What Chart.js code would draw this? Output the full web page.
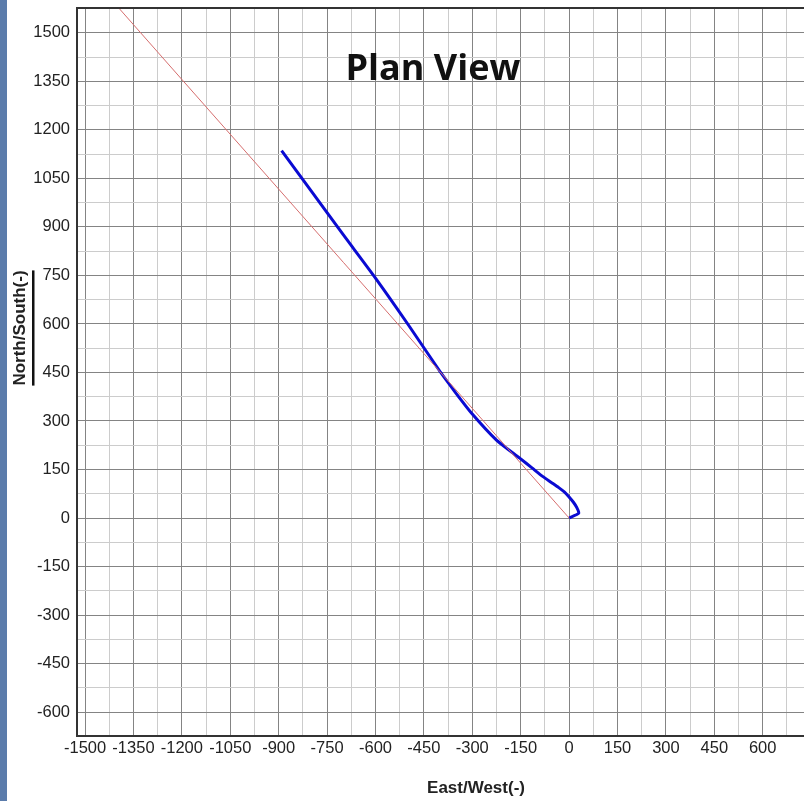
<!DOCTYPE html>
<html><head><meta charset="utf-8">
<script src="https://cdn.jsdelivr.net/npm/chart.js@4.4.1/dist/chart.umd.min.js"></script>
<style>
html,body{margin:0;padding:0;overflow:hidden;background:#5b7cab;width:804px;height:801px}
#wrap{position:absolute;left:7px;top:0;width:883px;height:801px;background:#fff}
canvas{display:block}
</style></head><body>
<div id="wrap"><canvas id="c" width="883" height="801"></canvas></div>
<script>
// Well path (plan view): East/West and North/South
const wellEast  = [0, 30, 24, 14, 0, -14, -32, -55, -81, -115, -153, -225, -302, -352, -400, -500, -600, -700, -800, -891];
const wellNorth = [0, 15, 32, 48, 65, 80, 94, 110, 128, 155, 185, 241, 324, 388, 453, 600, 742, 876, 1012, 1136];
// Target direction line
const targetEast  = [0, -1500];
const targetNorth = [0, 1695];
// Tick labels
const xTickLabels = [-1500, -1350, -1200, -1050, -900, -750, -600, -450, -300, -150, 0, 150, 300, 450, 600];
const yTickLabels = [-600, -450, -300, -150, 0, 150, 300, 450, 600, 750, 900, 1050, 1200, 1350, 1500];
// Grid positions (major every 150, minor every 75)
const xGrid = [-1500, -1425, -1350, -1275, -1200, -1125, -1050, -975, -900, -825, -750, -675, -600, -525, -450, -375, -300, -225, -150, -75, 0, 75, 150, 225, 300, 375, 450, 525, 600, 675, 750, 825, 900];
const yGrid = [-600, -525, -450, -375, -300, -225, -150, -75, 0, 75, 150, 225, 300, 375, 450, 525, 600, 675, 750, 825, 900, 975, 1050, 1125, 1200, 1275, 1350, 1425, 1500, 1575];

const MAJOR = '#848484', MINOR = '#cccccc';
const gridColor = c => (c.tick && c.tick.value % 150 === 0) ? MAJOR : MINOR;

const decor = {
  id: 'decor',
  beforeDraw(chart) {
    const ctx = chart.ctx;
    ctx.save();
    ctx.fillStyle = '#fff';
    ctx.fillRect(0, 0, chart.width, chart.height);
    ctx.restore();
  },
  afterDraw(chart) {
    const ctx = chart.ctx, a = chart.chartArea;
    ctx.save();
    // plot border
    ctx.strokeStyle = '#333';
    ctx.lineWidth = 2;
    ctx.strokeRect(a.left, a.top, a.right - a.left, a.bottom - a.top);
    // title inside plot
    ctx.fillStyle = '#111';
    ctx.font = 'bold 36px "Open Sans"';
    ctx.textAlign = 'center';
    ctx.textBaseline = 'alphabetic';
    ctx.fillText('Plan View', a.left + (a.right - a.left) * 0.446, a.top + 72);
    // x axis title
    ctx.font = 'bold 17px "Liberation Sans"';
    ctx.fillStyle = '#222';
    ctx.textBaseline = 'middle';
    ctx.fillText('East/West(-)', (a.left + a.right) / 2, a.bottom + 52);
    // y axis title (rotated, underlined)
    ctx.translate(13, 328);
    ctx.rotate(-Math.PI / 2);
    ctx.fillText('North/South(-)', 0, 0);
    const w = ctx.measureText('North/South(-)').width;
    ctx.fillStyle = '#111';
    ctx.fillRect(-w / 2, 12, w, 2.5);
    ctx.restore();
  }
};

new Chart(document.getElementById('c'), {
  type: 'scatter',
  data: {
    datasets: [
      {
        label: 'Target',
        data: targetEast.map((x, i) => ({x: x, y: targetNorth[i]})),
        showLine: true,
        borderColor: 'rgb(214,110,110)',
        borderWidth: 1,
        pointRadius: 0,
        tension: 0
      },
      {
        label: 'Well',
        data: wellEast.map((x, i) => ({x: x, y: wellNorth[i]})),
        showLine: true,
        borderColor: 'rgb(10,10,210)',
        borderWidth: 3,
        pointRadius: 0,
        tension: 0.2
      }
    ]
  },
  options: {
    responsive: false,
    animation: false,
    events: [],
    layout: {padding: {top: 8, right: 15, left: 0, bottom: 0}},
    plugins: {legend: {display: false}, title: {display: false}, tooltip: {enabled: false}},
    scales: {
      x: {
        type: 'linear',
        min: -1525, max: 948,
        afterBuildTicks: s => { s.ticks = xGrid.map(v => ({value: v})); },
        afterFit: s => { s.height = 65; s.paddingLeft = 0; s.paddingRight = 0; },
        grid: {color: gridColor, lineWidth: 1, drawTicks: false},
        border: {display: false},
        ticks: {
          autoSkip: false, maxRotation: 0, padding: 3,
          color: '#222', font: {family: '"Liberation Sans", Arial', size: 16.5},
          callback: v => xTickLabels.includes(v) ? String(v) : ''
        }
      },
      y: {
        type: 'linear',
        min: -674, max: 1577,
        afterBuildTicks: s => { s.ticks = yGrid.map(v => ({value: v})); },
        afterFit: s => { s.width = 70; s.paddingTop = 0; s.paddingBottom = 0; },
        grid: {color: gridColor, lineWidth: 1, drawTicks: false},
        border: {display: false},
        ticks: {
          autoSkip: false, padding: 7,
          color: '#222', font: {family: '"Liberation Sans", Arial', size: 16.5},
          callback: v => yTickLabels.includes(v) ? String(v) : ''
        }
      }
    }
  },
  plugins: [decor]
});
</script>
</body></html>
